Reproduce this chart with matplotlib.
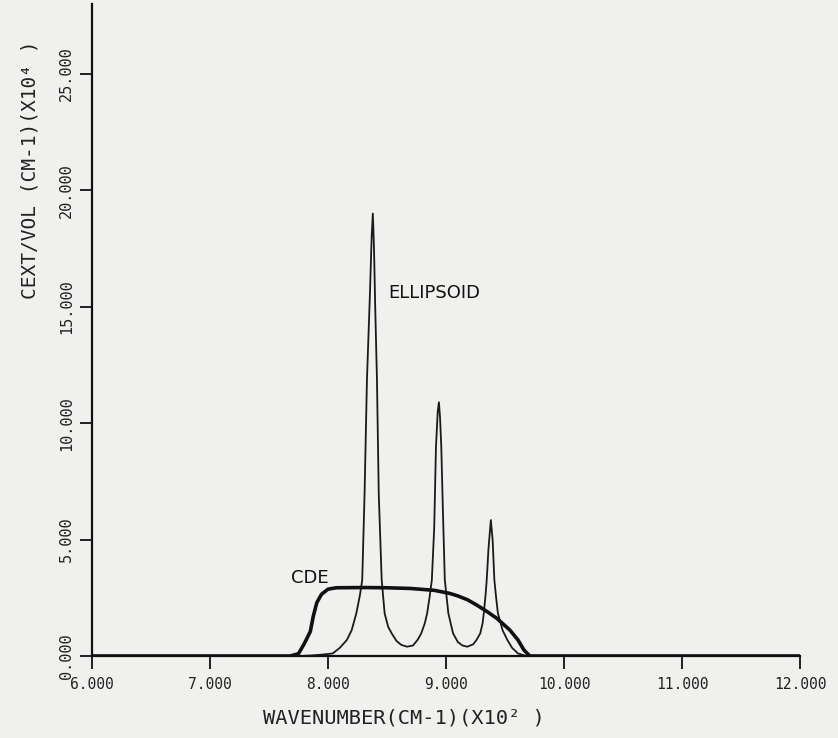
import numpy as np
import matplotlib.pyplot as plt

# (wavenumber x100, cext/vol x1e4)
ell_x = [6.0, 7.76, 7.85, 7.95, 8.04, 8.10, 8.16, 8.20, 8.24, 8.27, 8.29, 8.31, 8.33,
         8.355, 8.37, 8.38, 8.39, 8.40, 8.415, 8.43, 8.455, 8.48, 8.51, 8.54, 8.58,
         8.62, 8.67, 8.72, 8.76, 8.79, 8.82, 8.84, 8.86, 8.88, 8.90, 8.915, 8.93,
         8.94, 8.95, 8.96, 8.975, 8.99, 9.02, 9.06, 9.10, 9.14, 9.18, 9.23, 9.26,
         9.29, 9.31, 9.32, 9.335, 9.345, 9.36, 9.38, 9.395, 9.41, 9.425, 9.44, 9.48,
         9.52, 9.56, 9.61, 9.68, 12.0]
ell_y = [0.0, 0.0, 0.02, 0.06, 0.11, 0.35, 0.69, 1.1, 1.83, 2.6, 3.26, 6.98, 11.85,
         15.5, 18.0, 19.0, 17.5, 15.0, 11.85, 6.98, 3.26, 1.83, 1.25, 0.97, 0.65,
         0.48, 0.4, 0.45, 0.7, 0.97, 1.4, 1.83, 2.5, 3.26, 5.5, 8.98, 10.5,
         10.9, 10.2, 8.98, 6.0, 3.26, 1.83, 0.97, 0.6, 0.45, 0.4, 0.5, 0.7,
         0.97, 1.4, 1.83, 2.6, 3.26, 4.6, 5.84, 5.0, 3.26, 2.5, 1.83, 1.1,
         0.69, 0.35, 0.11, 0.0, 0.0]

cde_x = [6.0, 7.68, 7.75, 7.80, 7.85, 7.875, 7.905, 7.945, 8.0, 8.07, 8.3, 8.5,
         8.7, 8.9, 9.03, 9.1, 9.18, 9.26, 9.35, 9.43, 9.54, 9.61, 9.66, 9.71, 12.0]
cde_y = [0.0, 0.0, 0.1, 0.54, 1.05, 1.7, 2.29, 2.65, 2.87, 2.93, 2.94, 2.93,
         2.9, 2.82, 2.69, 2.58, 2.42, 2.19, 1.9, 1.62, 1.12, 0.69, 0.26, 0.0, 0.0]

xticks = [6, 7, 8, 9, 10, 11, 12]
yticks = [0, 5, 10, 15, 20, 25]

plt.rcParams['font.family'] = ['DejaVu Sans Mono', 'DejaVu Sans']
bg = '#f0f0ee'
fig = plt.figure(figsize=(8.38, 7.38), dpi=100, facecolor=bg)
ax = fig.add_axes([92/838, 1-656/738, (800-92)/838, (656-4)/738])
ax.set_facecolor(bg)

ax.plot(ell_x, ell_y, color='#1a1a1a', lw=1.3)
ax.plot(cde_x, cde_y, color='#111111', lw=2.6)

ax.set_xlim(6, 12)
ax.set_ylim(0, 28)
for s in ['top', 'right']:
    ax.spines[s].set_visible(False)
for s in ['left', 'bottom']:
    ax.spines[s].set_linewidth(1.6)
    ax.spines[s].set_color('#111111')

ax.set_xticks(xticks)
ax.set_xticklabels(['%.3f' % v for v in xticks], fontsize=10.5)
ax.set_yticks(yticks)
ax.set_yticklabels(['%.3f' % v for v in yticks], fontsize=11, rotation=90, va='center')
ax.tick_params(direction='out', length=9, width=1.3, color='#111111', labelcolor='#222222')
ax.tick_params(axis='x', pad=6)
ax.tick_params(axis='y', pad=4)

ax.text(8.51, 15.6, 'ELLIPSOID', fontsize=13, family='DejaVu Sans', color='#111111',
        va='center', ha='left')
ax.text(7.69, 3.35, 'CDE', fontsize=13, family='DejaVu Sans', color='#111111',
        va='center', ha='left')

fig.text(404/838, 1-718/738, 'WAVENUMBER(CM-1)(X10² )', fontsize=14.7, ha='center',
         va='center', color='#222222')
fig.text(30/838, 1-170/738, 'CEXT/VOL (CM-1)(X10⁴ )', fontsize=14, rotation=90,
         ha='center', va='center', color='#222222')

fig.savefig('out.png', dpi=100, facecolor=bg)
